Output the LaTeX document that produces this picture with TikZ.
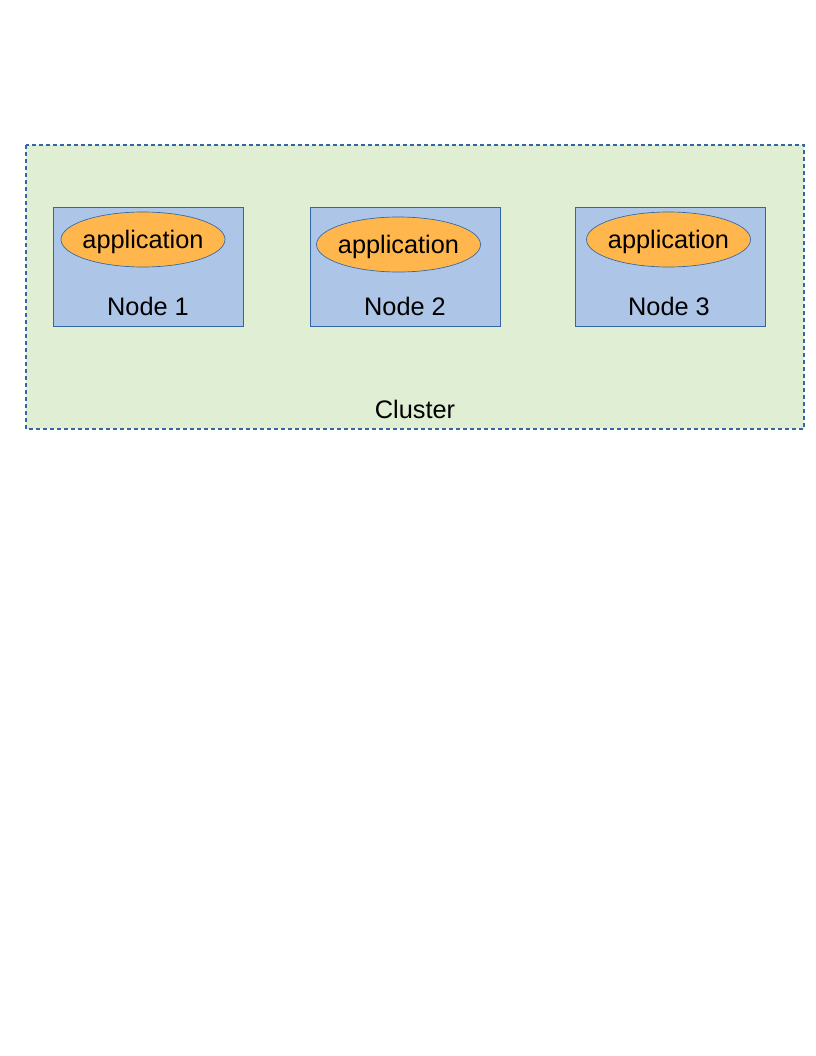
\documentclass[tikz,border=0pt]{standalone}
\usepackage{fontspec}
\setmainfont{Liberation Sans}
\usepackage{xcolor}
\usetikzlibrary{shapes.geometric}
\definecolor{clustergreen}{HTML}{E0EED4}
\definecolor{boxblue}{HTML}{ADC5E7}
\definecolor{edgeblue}{HTML}{3465A4}
\definecolor{apporange}{HTML}{FFB74D}

\begin{document}
\begin{tikzpicture}[x=0.75pt,y=-0.75pt,
	machine/.style={draw=edgeblue,fill=boxblue,line width=0.6pt,inner sep=0pt,minimum width=142.5pt,minimum height=89.25pt},
	app/.style={ellipse,draw=edgeblue,fill=apporange,line width=0.5pt,inner ysep=0pt,inner xsep=-3pt,minimum width=123pt,minimum height=41.25pt,text height=12.75pt,text depth=0pt,font=\fontsize{19}{21}\selectfont},
	lbl/.style={inner sep=0pt,anchor=base,font=\fontsize{19}{21}\selectfont}]
	\useasboundingbox (0,0) rectangle (816,1056);
	\fill[white] (0,0) rectangle (816,1056);
	
	\filldraw[fill=clustergreen,draw=edgeblue,line width=1.5pt,dash pattern=on 3pt off 2.25pt] (26,145) rectangle (804,429);
	\node[lbl] (cluster) at (415,418) {Cluster};
	
	\node[machine] (node1) at (148,266.5) {};
	\node[machine] (node2) at (405.5,266.5) {};
	\node[machine] (node3) at (670,266.5) {};
	
	\node[app] (app1) at (143,239.5) {application};
	\node[app] (app2) at (398.5,244.5) {application};
	\node[app] (app3) at (668.5,239.5) {application};
	
	\node[lbl] (label1) at (148,315) {Node 1};
	\node[lbl] (label2) at (405,315) {Node 2};
	\node[lbl] (label3) at (669,315) {Node 3};
\end{tikzpicture}
\end{document}
